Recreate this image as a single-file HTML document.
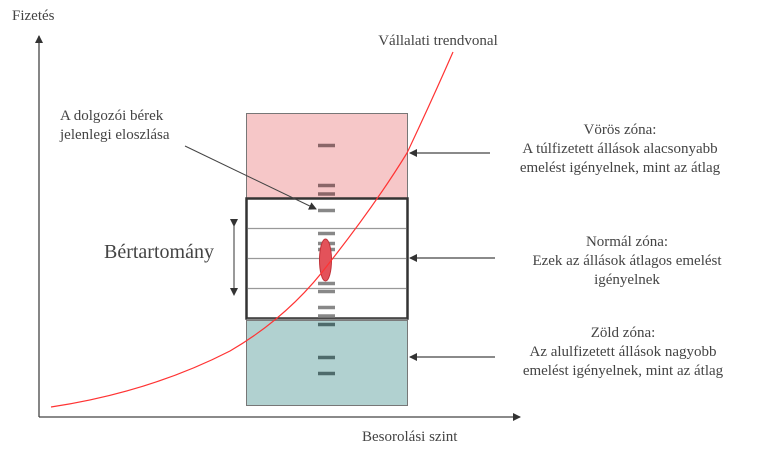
<!DOCTYPE html>
<html><head><meta charset="utf-8"><style>
html,body{margin:0;padding:0;background:#fff;}
svg{display:block;}
text{font-family:"Liberation Serif",serif;fill:#444;font-size:15px;}
</style></head><body>
<svg width="768" height="457" viewBox="0 0 768 457" xmlns="http://www.w3.org/2000/svg">
<defs>
<marker id="ah" markerWidth="8" markerHeight="8" refX="7" refY="4" orient="auto" markerUnits="userSpaceOnUse"><path d="M0,0 L8,4 L0,8 z" fill="#333"/></marker>
</defs>
<line x1="39" y1="417" x2="39" y2="36" stroke="#444" stroke-width="1.3" marker-end="url(#ah)"/>
<line x1="39" y1="417" x2="520" y2="417" stroke="#444" stroke-width="1.3" marker-end="url(#ah)"/>
<text x="12" y="20">Fizetés</text>
<text x="362" y="441">Besorolási szint</text>
<rect x="246.5" y="113.5" width="161" height="85" fill="#f6c7c8" stroke="#777" stroke-width="1"/>
<rect x="246.5" y="320.5" width="161" height="85" fill="#b1d1d0" stroke="#777" stroke-width="1"/>
<rect x="246.5" y="198.5" width="161" height="120" fill="#fff" stroke="#333" stroke-width="2.5"/>
<line x1="247" y1="319.5" x2="407" y2="319.5" stroke="#888" stroke-width="1.5"/>
<g stroke="#999" stroke-width="1.3">
<line x1="248" y1="228.5" x2="406" y2="228.5"/>
<line x1="248" y1="258.5" x2="406" y2="258.5"/>
<line x1="248" y1="288.5" x2="406" y2="288.5"/>
</g>
<g stroke-width="3.5">
<line x1="318" y1="145.5" x2="335" y2="145.5" stroke="#8a6668"/>
<line x1="318" y1="185.5" x2="335" y2="185.5" stroke="#8a6668"/>
<line x1="318" y1="194" x2="335" y2="194" stroke="#8a6668"/>
<line x1="318" y1="210.5" x2="335" y2="210.5" stroke="#888"/>
<line x1="318" y1="233.5" x2="335" y2="233.5" stroke="#888"/>
<line x1="318" y1="243.5" x2="335" y2="243.5" stroke="#888"/>
<line x1="318" y1="249.5" x2="335" y2="249.5" stroke="#888"/>
<line x1="318" y1="283.5" x2="335" y2="283.5" stroke="#888"/>
<line x1="318" y1="291.5" x2="335" y2="291.5" stroke="#888"/>
<line x1="318" y1="307.5" x2="335" y2="307.5" stroke="#888"/>
<line x1="318" y1="316" x2="335" y2="316" stroke="#888"/>
<line x1="318" y1="324.5" x2="335" y2="324.5" stroke="#4e6b6b"/>
<line x1="318" y1="357.5" x2="335" y2="357.5" stroke="#4e6b6b"/>
<line x1="318" y1="373.5" x2="335" y2="373.5" stroke="#4e6b6b"/>
</g>
<ellipse cx="325.5" cy="260" rx="6" ry="21" fill="#e3525a" stroke="#c03038" stroke-width="1"/>
<path d="M51,407 Q150,392 230,351 Q290,316 330,262 Q375,205 407,153 Q432,100 453,52" fill="none" stroke="#f33" stroke-width="1.2"/>
<text x="438" y="45" text-anchor="middle">Vállalati trendvonal</text>
<text x="60" y="120">A dolgozói bérek</text>
<text x="60" y="139">jelenlegi eloszlása</text>
<line x1="185" y1="146" x2="316" y2="209" stroke="#444" stroke-width="1" marker-end="url(#ah)"/>
<text x="104" y="258" style="font-size:20px">Bértartomány</text>
<line x1="234" y1="226" x2="234" y2="295" stroke="#333" stroke-width="1" marker-start="url(#ah)" marker-end="url(#ah)"/>
<g stroke="#444" stroke-width="1.2">
<line x1="490" y1="153" x2="410" y2="153" marker-end="url(#ah)"/>
<line x1="495" y1="258" x2="410" y2="258" marker-end="url(#ah)"/>
<line x1="495" y1="357" x2="410" y2="357" marker-end="url(#ah)"/>
</g>
<g text-anchor="middle">
<text x="620" y="134">Vörös zóna:</text>
<text x="620" y="153">A túlfizetett állások alacsonyabb</text>
<text x="620" y="172">emelést igényelnek, mint az átlag</text>
<text x="627" y="246">Normál zóna:</text>
<text x="627" y="265">Ezek az állások átlagos emelést</text>
<text x="627" y="284">igényelnek</text>
<text x="623" y="337">Zöld zóna:</text>
<text x="623" y="356">Az alulfizetett állások nagyobb</text>
<text x="623" y="375">emelést igényelnek, mint az átlag</text>
</g>
</svg>
</body></html>
